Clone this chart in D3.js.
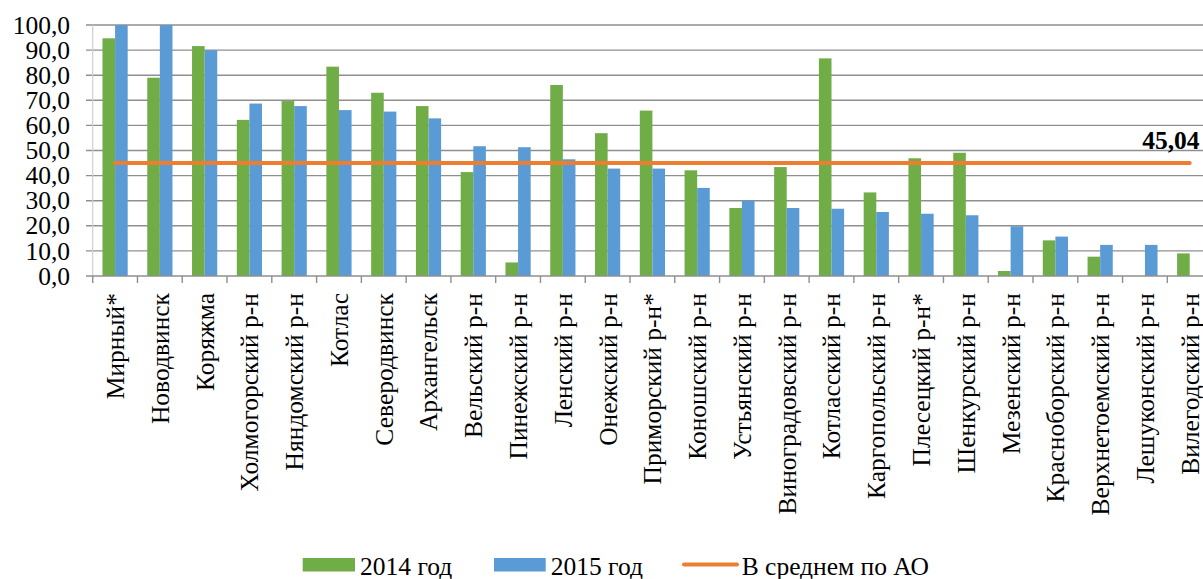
<!DOCTYPE html>
<html>
<head>
<meta charset="utf-8">
<script src="https://cdn.jsdelivr.net/npm/d3@7/dist/d3.min.js"></script>
<style>
  html, body { margin: 0; padding: 0; background: #fff; }
</style>
</head>
<body>
<svg id="chart" width="1203" height="579"></svg>
<script>
// Municipalities of the Arkhangelsk region
const categories = [
  "Мирный*", "Новодвинск", "Коряжма", "Холмогорский р-н", "Няндомский р-н",
  "Котлас", "Северодвинск", "Архангельск", "Вельский р-н", "Пинежский р-н",
  "Ленский р-н", "Онежский р-н", "Приморский р-н*", "Коношский р-н", "Устьянский р-н",
  "Виноградовский р-н", "Котласский р-н", "Каргопольский р-н", "Плесецкий р-н*", "Шенкурский р-н",
  "Мезенский р-н", "Красноборский р-н", "Верхнетоемский р-н", "Лешуконский р-н", "Вилегодский р-н"
];
const values2014 = [94.7, 79.0, 91.6, 62.2, 69.7, 83.4, 73.0, 67.7, 41.4, 5.4,
                    76.1, 56.9, 65.9, 42.1, 27.1, 43.4, 86.7, 33.3, 46.9, 49.1,
                    2.0, 14.2, 7.7, null, 9.0];
const values2015 = [100.0, 100.0, 90.0, 68.7, 67.7, 66.1, 65.5, 62.8, 51.7, 51.3,
                    46.5, 42.8, 42.8, 35.1, 30.0, 27.1, 26.8, 25.5, 24.8, 24.2,
                    19.8, 15.7, 12.4, 12.4, null];
const average = 45.04;
const yTicks = [0, 10, 20, 30, 40, 50, 60, 70, 80, 90, 100];
const seriesNames = ["2014 год", "2015 год"];
const averageName = "В среднем по АО";

const FONT = "Liberation Serif";
const colors = { s2014: "#70AD47", s2015: "#5B9BD5", avg: "#ED7D31", grid: "#8f8f8f" };

const svg = d3.select("#chart");
const plot = { left: 92.7, right: 1212.1, top: 25, bottom: 276 };

const x = d3.scaleBand().domain(categories).range([plot.left, plot.right]).paddingInner(0).paddingOuter(0);
const xInner = d3.scaleBand().domain(["2014", "2015"]).range([0, x.bandwidth()]).paddingInner(0).paddingOuter(0.777);
const y = d3.scaleLinear().domain([0, 100]).range([plot.bottom, plot.top]);

const ruLocale = d3.formatLocale({ decimal: ",", thousands: " ", grouping: [3], currency: ["", ""] });
const fmt1 = ruLocale.format(".1f");
const fmt2 = ruLocale.format(".2f");

// horizontal gridlines with outward tick stubs on the value axis
svg.append("g")
  .selectAll("line")
  .data(yTicks.filter(d => d > 0))
  .join("line")
  .attr("x1", plot.left - 6.7)
  .attr("x2", 1203)
  .attr("y1", d => y(d))
  .attr("y2", d => y(d))
  .attr("stroke", colors.grid)
  .attr("stroke-width", 1.4);

// vertical value axis line
svg.append("line")
  .attr("x1", plot.left).attr("x2", plot.left)
  .attr("y1", y(100)).attr("y2", y(0))
  .attr("stroke", "#d0d0d0").attr("stroke-width", 1.2);

// value axis labels
svg.append("g")
  .selectAll("text")
  .data(yTicks)
  .join("text")
  .attr("x", 70)
  .attr("y", d => y(d))
  .attr("dy", "0.34em")
  .attr("text-anchor", "end")
  .style("font-family", FONT)
  .style("font-size", "25.5px")
  .attr("fill", "#000")
  .text(d => fmt1(d));

// bars
const rows = categories.map((c, i) => ({ c, v2014: values2014[i], v2015: values2015[i] }));
const barG = svg.append("g");
[["2014", "v2014", colors.s2014], ["2015", "v2015", colors.s2015]].forEach(([key, field, col]) => {
  barG.selectAll("rect.b" + key)
    .data(rows.filter(r => r[field] != null))
    .join("rect")
    .attr("class", "b" + key)
    .attr("x", r => x(r.c) + xInner(key))
    .attr("width", xInner.bandwidth())
    .attr("y", r => y(r[field]))
    .attr("height", r => y(0) - y(r[field]))
    .attr("fill", col);
});

// category axis line and tick marks
svg.append("line")
  .attr("x1", plot.left - 6.7).attr("x2", 1203)
  .attr("y1", y(0)).attr("y2", y(0))
  .attr("stroke", colors.grid).attr("stroke-width", 1.4);

const boundaries = categories.map(c => x(c)).concat([x(categories[categories.length - 1]) + x.bandwidth()]);
svg.append("g")
  .selectAll("line")
  .data(boundaries)
  .join("line")
  .attr("x1", d => d).attr("x2", d => d)
  .attr("y1", y(0)).attr("y2", y(0) + 7)
  .attr("stroke", colors.grid).attr("stroke-width", 1.4);

// rotated category labels
svg.append("g")
  .selectAll("text")
  .data(categories)
  .join("text")
  .attr("transform", c => `translate(${x(c) + x.bandwidth() / 2},293) rotate(-90)`)
  .attr("dy", "0.35em")
  .attr("text-anchor", "end")
  .style("font-family", FONT)
  .style("font-size", "25.5px")
  .attr("fill", "#000")
  .text(c => c);

// regional average line
const first = categories[0], last = categories[categories.length - 1];
svg.append("line")
  .attr("x1", x(first) + x.bandwidth() / 2)
  .attr("x2", x(last) + x.bandwidth() / 2)
  .attr("y1", y(average)).attr("y2", y(average))
  .attr("stroke", colors.avg).attr("stroke-width", 4)
  .attr("stroke-linecap", "round");

svg.append("text")
  .attr("x", 1199.5)
  .attr("y", y(average) - 13.5)
  .attr("text-anchor", "end")
  .style("font-family", FONT)
  .style("font-size", "25.5px")
  .style("font-weight", "bold")
  .attr("fill", "#000")
  .text(fmt2(average));

// legend
const legend = svg.append("g");
const legendText = (xPos, label) => legend.append("text")
  .attr("x", xPos).attr("y", 574.5)
  .style("font-family", FONT).style("font-size", "25.5px")
  .attr("fill", "#000").text(label);
legend.append("rect").attr("x", 302.7).attr("y", 558).attr("width", 52.3).attr("height", 13.5).attr("fill", colors.s2014);
legendText(360, seriesNames[0]);
legend.append("rect").attr("x", 494).attr("y", 558).attr("width", 51.7).attr("height", 13.5).attr("fill", colors.s2015);
legendText(550.7, seriesNames[1]);
legend.append("line").attr("x1", 684).attr("x2", 737).attr("y1", 564.5).attr("y2", 564.5)
  .attr("stroke", colors.avg).attr("stroke-width", 4).attr("stroke-linecap", "round");
legendText(741.7, averageName);
</script>
</body>
</html>
